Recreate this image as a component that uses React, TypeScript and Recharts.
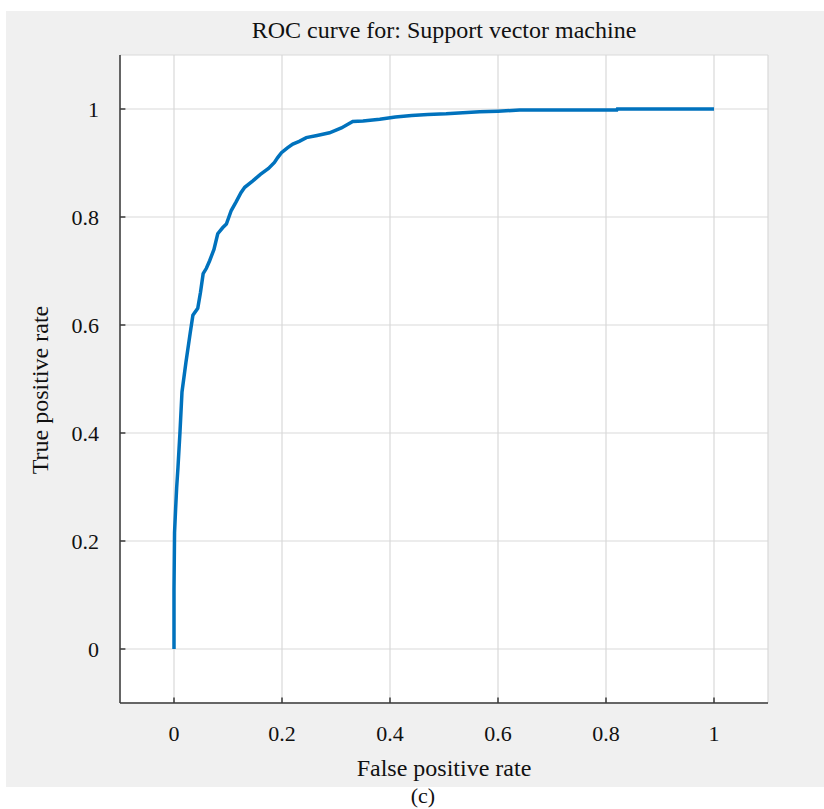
import { CartesianGrid, Line, LineChart, ReferenceLine, XAxis, YAxis } from 'recharts';

// ROC points
const fpr = [
  0, 0, 0.001, 0.003, 0.005, 0.0074, 0.011, 0.0148, 0.022, 0.03, 0.035, 0.044, 0.049,
  0.054, 0.06, 0.066, 0.074, 0.081, 0.09, 0.097, 0.106, 0.115, 0.124, 0.131, 0.146,
  0.16, 0.175, 0.186, 0.192, 0.199, 0.21, 0.22, 0.232, 0.245, 0.265, 0.288, 0.31,
  0.331, 0.35, 0.381, 0.41, 0.44, 0.47, 0.504, 0.566, 0.6, 0.64, 0.82, 0.821, 1.0,
];
const tpr = [
  0, 0.11, 0.215, 0.26, 0.3, 0.337, 0.4, 0.476, 0.53, 0.585, 0.618, 0.631, 0.66,
  0.695, 0.705, 0.719, 0.74, 0.769, 0.78, 0.787, 0.812, 0.828, 0.845, 0.855, 0.867,
  0.879, 0.89, 0.901, 0.91, 0.919, 0.928, 0.935, 0.94, 0.947, 0.951, 0.956, 0.965,
  0.977, 0.978, 0.981, 0.985, 0.988, 0.99, 0.991, 0.995, 0.996, 0.998, 0.998, 1.0, 1.0,
];
const ticks = [0, 0.2, 0.4, 0.6, 0.8, 1];
const domain: [number, number] = [-0.1, 1.1];

const data = fpr.map((x, i) => ({ fpr: x, tpr: tpr[i] }));

const serif = '"Liberation Serif", "Times New Roman", serif';
const axisColor = '#3a3a3a';
const tickLen = 0.01;

export default function App() {
  return (
    <div style={{ position: 'absolute', left: 0, top: 0, width: 824, height: 809, background: '#fff', fontFamily: serif }}>
      <div style={{ position: 'absolute', left: 6, top: 11, width: 818, height: 776, background: '#f0f0f0' }} />
      <div style={{ position: 'absolute', left: 0, width: 888, top: 18, textAlign: 'center', fontSize: 24, lineHeight: '24px', color: '#111' }}>
        ROC curve for: Support vector machine
      </div>
      <div style={{ position: 'absolute', left: 0, width: 888, top: 756, textAlign: 'center', fontSize: 24, lineHeight: '24px', color: '#111' }}>
        False positive rate
      </div>
      <div style={{ position: 'absolute', left: 323, width: 200, top: 785, textAlign: 'center', fontSize: 22, lineHeight: '22px', color: '#111' }}>
        (c)
      </div>
      <div
        style={{
          position: 'absolute', left: 40, top: 390, fontSize: 24, lineHeight: '24px', color: '#111',
          whiteSpace: 'nowrap', transform: 'translate(-50%, -50%) rotate(-90deg)',
        }}
      >
        True positive rate
      </div>
      <div style={{ position: 'absolute', left: 0, top: 0 }}>
        <LineChart width={824} height={809} data={data} margin={{ top: 55, right: 56, bottom: 66, left: 0 }}>
          <CartesianGrid stroke="#d9d9d9" strokeWidth={1.2} fill="#ffffff" />
          <XAxis
            dataKey="fpr"
            type="number"
            domain={domain}
            ticks={ticks}
            allowDataOverflow
            height={40}
            tickLine={false}
            tickMargin={16}
            axisLine={{ stroke: axisColor, strokeWidth: 1.5 }}
            tick={{ fill: '#111', fontSize: 22, fontFamily: serif }}
          />
          <YAxis
            dataKey="tpr"
            type="number"
            domain={domain}
            ticks={ticks}
            allowDataOverflow
            width={120}
            tickLine={false}
            tickMargin={15}
            axisLine={{ stroke: axisColor, strokeWidth: 1.5 }}
            tick={{ fill: '#111', fontSize: 22, fontFamily: serif }}
          />
          {ticks.map((t) => (
            <ReferenceLine
              key={'xt' + t}
              segment={[{ x: t, y: domain[0] }, { x: t, y: domain[0] + tickLen }]}
              stroke={axisColor}
              strokeWidth={1.5}
              ifOverflow="visible"
            />
          ))}
          {ticks.map((t) => (
            <ReferenceLine
              key={'yt' + t}
              segment={[{ x: domain[0], y: t }, { x: domain[0] + tickLen, y: t }]}
              stroke={axisColor}
              strokeWidth={1.5}
              ifOverflow="visible"
            />
          ))}
          <Line
            dataKey="tpr"
            type="linear"
            stroke="#0072BD"
            strokeWidth={3.5}
            dot={false}
            isAnimationActive={false}
          />
        </LineChart>
      </div>
    </div>
  );
}
